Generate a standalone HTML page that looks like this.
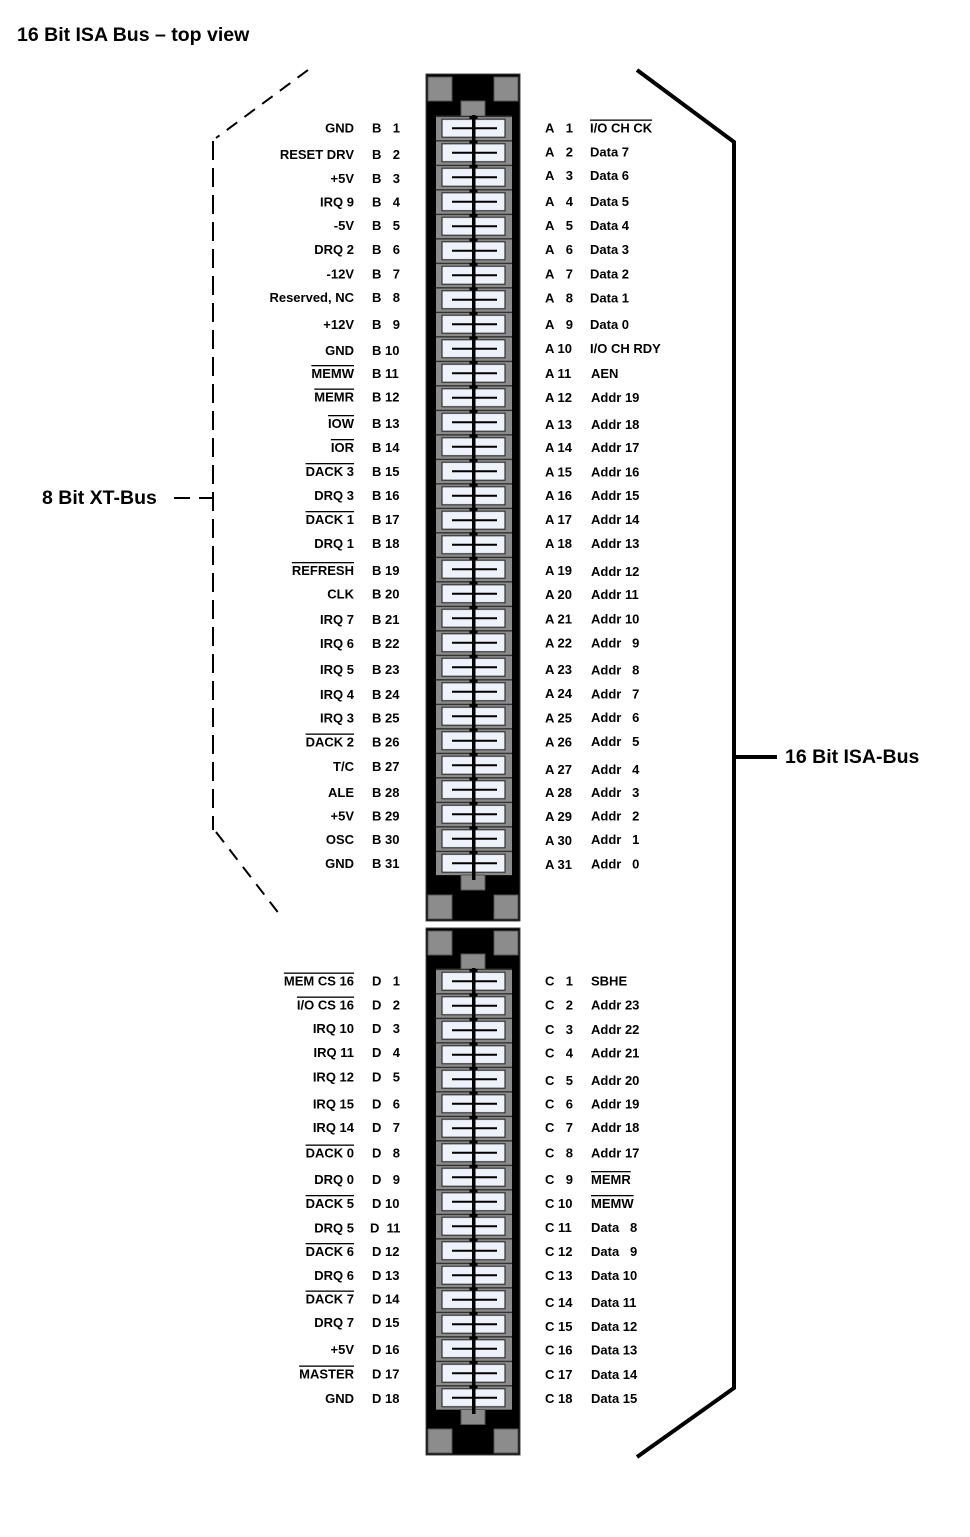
<!DOCTYPE html>
<html><head><meta charset="utf-8"><style>
html,body{margin:0;padding:0;background:#fff;}
svg{display:block;}
text{font-family:"Liberation Sans",Arial,sans-serif;font-weight:bold;font-size:13px;fill:#000;}
.l{text-anchor:end;}
.o{text-decoration:overline;}
.big{font-size:19.5px;}
</style></head><body>
<svg width="970" height="1537" viewBox="0 0 970 1537" xmlns="http://www.w3.org/2000/svg">
<defs>
<pattern id="pin" patternUnits="userSpaceOnUse" x="0" y="115.75" width="970" height="24.5">
<rect x="436" y="0" width="76" height="24.5" fill="#8c8c8c"/>
<rect x="436" y="0" width="76" height="1.2" fill="#222"/>
<rect x="442" y="3.5" width="63" height="18" fill="#eef2fa" stroke="#333" stroke-width="1.2"/>
<rect x="452" y="11.5" width="45" height="2" fill="#000"/>
<rect x="472" y="0" width="3.5" height="24.5" fill="#000"/>
<rect x="469.5" y="-1" width="8" height="4" fill="#000"/>
</pattern>
<pattern id="pin2" patternUnits="userSpaceOnUse" x="0" y="968.75" width="970" height="24.5">
<rect x="436" y="0" width="76" height="24.5" fill="#8c8c8c"/>
<rect x="436" y="0" width="76" height="1.2" fill="#222"/>
<rect x="442" y="3.5" width="63" height="18" fill="#eef2fa" stroke="#333" stroke-width="1.2"/>
<rect x="452" y="11.5" width="45" height="2" fill="#000"/>
<rect x="472" y="0" width="3.5" height="24.5" fill="#000"/>
<rect x="469.5" y="-1" width="8" height="4" fill="#000"/>
</pattern>
</defs>
<text class="big" x="17" y="41">16 Bit ISA Bus – top view</text>

<!-- top connector -->
<rect x="426" y="74" width="94" height="847" fill="#000" stroke="#444" stroke-width="1"/>
<rect x="428" y="77" width="24" height="24" fill="#8c8c8c" stroke="#555"/>
<rect x="494" y="77" width="24" height="24" fill="#8c8c8c" stroke="#555"/>
<rect x="461" y="101" width="24" height="15" fill="#8c8c8c" stroke="#555"/>
<rect x="436" y="115.75" width="76" height="759.5" fill="url(#pin)"/>
<rect x="461" y="875" width="24" height="15" fill="#8c8c8c" stroke="#555"/>
<rect x="472" y="115" width="3.5" height="765" fill="#000"/>
<rect x="428" y="895" width="24" height="24" fill="#8c8c8c" stroke="#555"/>
<rect x="494" y="895" width="24" height="24" fill="#8c8c8c" stroke="#555"/>

<!-- bottom connector -->
<rect x="426" y="928" width="94" height="527" fill="#000" stroke="#444" stroke-width="1"/>
<rect x="428" y="931" width="24" height="24" fill="#8c8c8c" stroke="#555"/>
<rect x="494" y="931" width="24" height="24" fill="#8c8c8c" stroke="#555"/>
<rect x="461" y="954" width="24" height="15" fill="#8c8c8c" stroke="#555"/>
<rect x="436" y="968.75" width="76" height="441" fill="url(#pin2)"/>
<rect x="461" y="1409.5" width="24" height="15" fill="#8c8c8c" stroke="#555"/>
<rect x="472" y="968" width="3.5" height="446" fill="#000"/>
<rect x="428" y="1429" width="24" height="24" fill="#8c8c8c" stroke="#555"/>
<rect x="494" y="1429" width="24" height="24" fill="#8c8c8c" stroke="#555"/>

<!-- dashed bracket left -->
<line x1="308" y1="70" x2="216" y2="138" stroke="#000" stroke-width="2" stroke-dasharray="13,9"/>
<line x1="213" y1="141" x2="213" y2="830" stroke="#000" stroke-width="2" stroke-dasharray="19,8"/>
<line x1="216" y1="832" x2="280" y2="915" stroke="#000" stroke-width="2" stroke-dasharray="13,9"/>
<line x1="174" y1="498" x2="190" y2="498" stroke="#000" stroke-width="2"/>
<line x1="199" y1="498" x2="213" y2="498" stroke="#000" stroke-width="2"/>
<text class="big" x="42" y="504">8 Bit XT-Bus</text>

<!-- right bracket -->
<polyline points="637,70 734,142 734,1388 637,1457" fill="none" stroke="#000" stroke-width="4"/>
<line x1="734" y1="757" x2="777" y2="757" stroke="#000" stroke-width="4"/>
<text class="big" x="785" y="763">16 Bit ISA-Bus</text>

<!-- B side -->
<g>
<text class="l" x="354" y="132.5">GND</text><text x="372" y="132.5">B</text><text class="l" x="400" y="132.5">1</text>
<text class="l" x="354" y="159">RESET DRV</text><text x="372" y="159">B</text><text class="l" x="400" y="159">2</text>
<text class="l" x="354" y="183">+5V</text><text x="372" y="183">B</text><text class="l" x="400" y="183">3</text>
<text class="l" x="354" y="206.5">IRQ 9</text><text x="372" y="206.5">B</text><text class="l" x="400" y="206.5">4</text>
<text class="l" x="354" y="230">-5V</text><text x="372" y="230">B</text><text class="l" x="400" y="230">5</text>
<text class="l" x="354" y="254">DRQ 2</text><text x="372" y="254">B</text><text class="l" x="400" y="254">6</text>
<text class="l" x="354" y="278.5">-12V</text><text x="372" y="278.5">B</text><text class="l" x="400" y="278.5">7</text>
<text class="l" x="354" y="302">Reserved, NC</text><text x="372" y="302">B</text><text class="l" x="400" y="302">8</text>
<text class="l" x="354" y="329">+12V</text><text x="372" y="329">B</text><text class="l" x="400" y="329">9</text>
<text class="l" x="354" y="355">GND</text><text x="372" y="355">B 10</text>
<text class="l o" x="354" y="378">MEMW</text><text x="372" y="378">B 11</text>
<text class="l o" x="354" y="401.5">MEMR</text><text x="372" y="401.5">B 12</text>
<text class="l o" x="354" y="428">IOW</text><text x="372" y="428">B 13</text>
<text class="l o" x="354" y="452">IOR</text><text x="372" y="452">B 14</text>
<text class="l o" x="354" y="476">DACK 3</text><text x="372" y="476">B 15</text>
<text class="l" x="354" y="500">DRQ 3</text><text x="372" y="500">B 16</text>
<text class="l o" x="354" y="524">DACK 1</text><text x="372" y="524">B 17</text>
<text class="l" x="354" y="548">DRQ 1</text><text x="372" y="548">B 18</text>
<text class="l o" x="354" y="575">REFRESH</text><text x="372" y="575">B 19</text>
<text class="l" x="354" y="598.5">CLK</text><text x="372" y="598.5">B 20</text>
<text class="l" x="354" y="624">IRQ 7</text><text x="372" y="624">B 21</text>
<text class="l" x="354" y="648">IRQ 6</text><text x="372" y="648">B 22</text>
<text class="l" x="354" y="674">IRQ 5</text><text x="372" y="674">B 23</text>
<text class="l" x="354" y="699">IRQ 4</text><text x="372" y="699">B 24</text>
<text class="l" x="354" y="722.5">IRQ 3</text><text x="372" y="722.5">B 25</text>
<text class="l o" x="354" y="746.5">DACK 2</text><text x="372" y="746.5">B 26</text>
<text class="l" x="354" y="771">T/C</text><text x="372" y="771">B 27</text>
<text class="l" x="354" y="797">ALE</text><text x="372" y="797">B 28</text>
<text class="l" x="354" y="820.5">+5V</text><text x="372" y="820.5">B 29</text>
<text class="l" x="354" y="844">OSC</text><text x="372" y="844">B 30</text>
<text class="l" x="354" y="868">GND</text><text x="372" y="868">B 31</text>
</g>
<!-- A side -->
<g>
<text x="545" y="132.5">A</text><text class="l" x="573" y="132.5">1</text><text class="o" x="590" y="132.5">I/O CH CK</text>
<text x="545" y="156.5">A</text><text class="l" x="573" y="156.5">2</text><text x="590" y="156.5">Data 7</text>
<text x="545" y="180">A</text><text class="l" x="573" y="180">3</text><text x="590" y="180">Data 6</text>
<text x="545" y="206">A</text><text class="l" x="573" y="206">4</text><text x="590" y="206">Data 5</text>
<text x="545" y="230">A</text><text class="l" x="573" y="230">5</text><text x="590" y="230">Data 4</text>
<text x="545" y="254">A</text><text class="l" x="573" y="254">6</text><text x="590" y="254">Data 3</text>
<text x="545" y="278.5">A</text><text class="l" x="573" y="278.5">7</text><text x="590" y="278.5">Data 2</text>
<text x="545" y="302.5">A</text><text class="l" x="573" y="302.5">8</text><text x="590" y="302.5">Data 1</text>
<text x="545" y="329">A</text><text class="l" x="573" y="329">9</text><text x="590" y="329">Data 0</text>
<text x="545" y="353">A 10</text><text x="590" y="353">I/O CH RDY</text>
<text x="545" y="378">A 11</text><text x="591" y="378">AEN</text>
<text x="545" y="402">A 12</text><text x="591" y="402">Addr 19</text>
<text x="545" y="429">A 13</text><text x="591" y="429">Addr 18</text>
<text x="545" y="452">A 14</text><text x="591" y="452">Addr 17</text>
<text x="545" y="476.5">A 15</text><text x="591" y="476.5">Addr 16</text>
<text x="545" y="500">A 16</text><text x="591" y="500">Addr 15</text>
<text x="545" y="524">A 17</text><text x="591" y="524">Addr 14</text>
<text x="545" y="548">A 18</text><text x="591" y="548">Addr 13</text>
<text x="545" y="575">A 19</text><text x="591" y="576">Addr 12</text>
<text x="545" y="599">A 20</text><text x="591" y="599">Addr 11</text>
<text x="545" y="623.5">A 21</text><text x="591" y="623.5">Addr 10</text>
<text x="545" y="647.5">A 22</text><text x="591" y="647.5">Addr &#160; 9</text>
<text x="545" y="674">A 23</text><text x="591" y="674.5">Addr &#160; 8</text>
<text x="545" y="698">A 24</text><text x="591" y="698.5">Addr &#160; 7</text>
<text x="545" y="722.5">A 25</text><text x="591" y="722">Addr &#160; 6</text>
<text x="545" y="746.5">A 26</text><text x="591" y="746">Addr &#160; 5</text>
<text x="545" y="774">A 27</text><text x="591" y="774">Addr &#160; 4</text>
<text x="545" y="797">A 28</text><text x="591" y="797">Addr &#160; 3</text>
<text x="545" y="821">A 29</text><text x="591" y="820.5">Addr &#160; 2</text>
<text x="545" y="845">A 30</text><text x="591" y="844">Addr &#160; 1</text>
<text x="545" y="869">A 31</text><text x="591" y="868.5">Addr &#160; 0</text>
</g>
<!-- D side -->
<g>
<text class="l o" x="354" y="985.5">MEM CS 16</text><text x="372" y="985.5">D</text><text class="l" x="400" y="985.5">1</text>
<text class="l o" x="354" y="1009.5">I/O CS 16</text><text x="372" y="1009.5">D</text><text class="l" x="400" y="1009.5">2</text>
<text class="l" x="354" y="1033">IRQ 10</text><text x="372" y="1033">D</text><text class="l" x="400" y="1033">3</text>
<text class="l" x="354" y="1057">IRQ 11</text><text x="372" y="1057">D</text><text class="l" x="400" y="1057">4</text>
<text class="l" x="354" y="1081.5">IRQ 12</text><text x="372" y="1081.5">D</text><text class="l" x="400" y="1081.5">5</text>
<text class="l" x="354" y="1108.5">IRQ 15</text><text x="372" y="1108.5">D</text><text class="l" x="400" y="1108.5">6</text>
<text class="l" x="354" y="1132">IRQ 14</text><text x="372" y="1132">D</text><text class="l" x="400" y="1132">7</text>
<text class="l o" x="354" y="1157.5">DACK 0</text><text x="372" y="1157.5">D</text><text class="l" x="400" y="1157.5">8</text>
<text class="l" x="354" y="1184">DRQ 0</text><text x="372" y="1184">D</text><text class="l" x="400" y="1184">9</text>
<text class="l o" x="354" y="1208">DACK 5</text><text x="372" y="1208">D 10</text>
<text class="l" x="354" y="1232.5">DRQ 5</text><text x="370" y="1232.5">D &#160;11</text>
<text class="l o" x="354" y="1256">DACK 6</text><text x="372" y="1256">D 12</text>
<text class="l" x="354" y="1280">DRQ 6</text><text x="372" y="1280">D 13</text>
<text class="l o" x="354" y="1303.5">DACK 7</text><text x="372" y="1303.5">D 14</text>
<text class="l" x="354" y="1327">DRQ 7</text><text x="372" y="1327">D 15</text>
<text class="l" x="354" y="1354">+5V</text><text x="372" y="1354">D 16</text>
<text class="l o" x="354" y="1378.5">MASTER</text><text x="372" y="1378.5">D 17</text>
<text class="l" x="354" y="1403">GND</text><text x="372" y="1403">D 18</text>
</g>
<!-- C side -->
<g>
<text x="545" y="985.5">C</text><text class="l" x="573" y="985.5">1</text><text x="591" y="985.5">SBHE</text>
<text x="545" y="1009.5">C</text><text class="l" x="573" y="1009.5">2</text><text x="591" y="1009.5">Addr 23</text>
<text x="545" y="1034">C</text><text class="l" x="573" y="1034">3</text><text x="591" y="1034">Addr 22</text>
<text x="545" y="1057.5">C</text><text class="l" x="573" y="1057.5">4</text><text x="591" y="1057.5">Addr 21</text>
<text x="545" y="1085">C</text><text class="l" x="573" y="1085">5</text><text x="591" y="1085">Addr 20</text>
<text x="545" y="1108.5">C</text><text class="l" x="573" y="1108.5">6</text><text x="591" y="1108.5">Addr 19</text>
<text x="545" y="1132">C</text><text class="l" x="573" y="1132">7</text><text x="591" y="1132">Addr 18</text>
<text x="545" y="1157.5">C</text><text class="l" x="573" y="1157.5">8</text><text x="591" y="1157.5">Addr 17</text>
<text x="545" y="1184">C</text><text class="l" x="573" y="1184">9</text><text class="o" x="591" y="1184">MEMR</text>
<text x="545" y="1208">C 10</text><text class="o" x="591" y="1208">MEMW</text>
<text x="545" y="1232">C 11</text><text x="591" y="1232">Data &#160; 8</text>
<text x="545" y="1256">C 12</text><text x="591" y="1256">Data &#160; 9</text>
<text x="545" y="1280">C 13</text><text x="591" y="1280">Data 10</text>
<text x="545" y="1307">C 14</text><text x="591" y="1307">Data 11</text>
<text x="545" y="1331">C 15</text><text x="591" y="1331">Data 12</text>
<text x="545" y="1354.5">C 16</text><text x="591" y="1354.5">Data 13</text>
<text x="545" y="1379">C 17</text><text x="591" y="1379">Data 14</text>
<text x="545" y="1403">C 18</text><text x="591" y="1403">Data 15</text>
</g>
</svg>
</body></html>
